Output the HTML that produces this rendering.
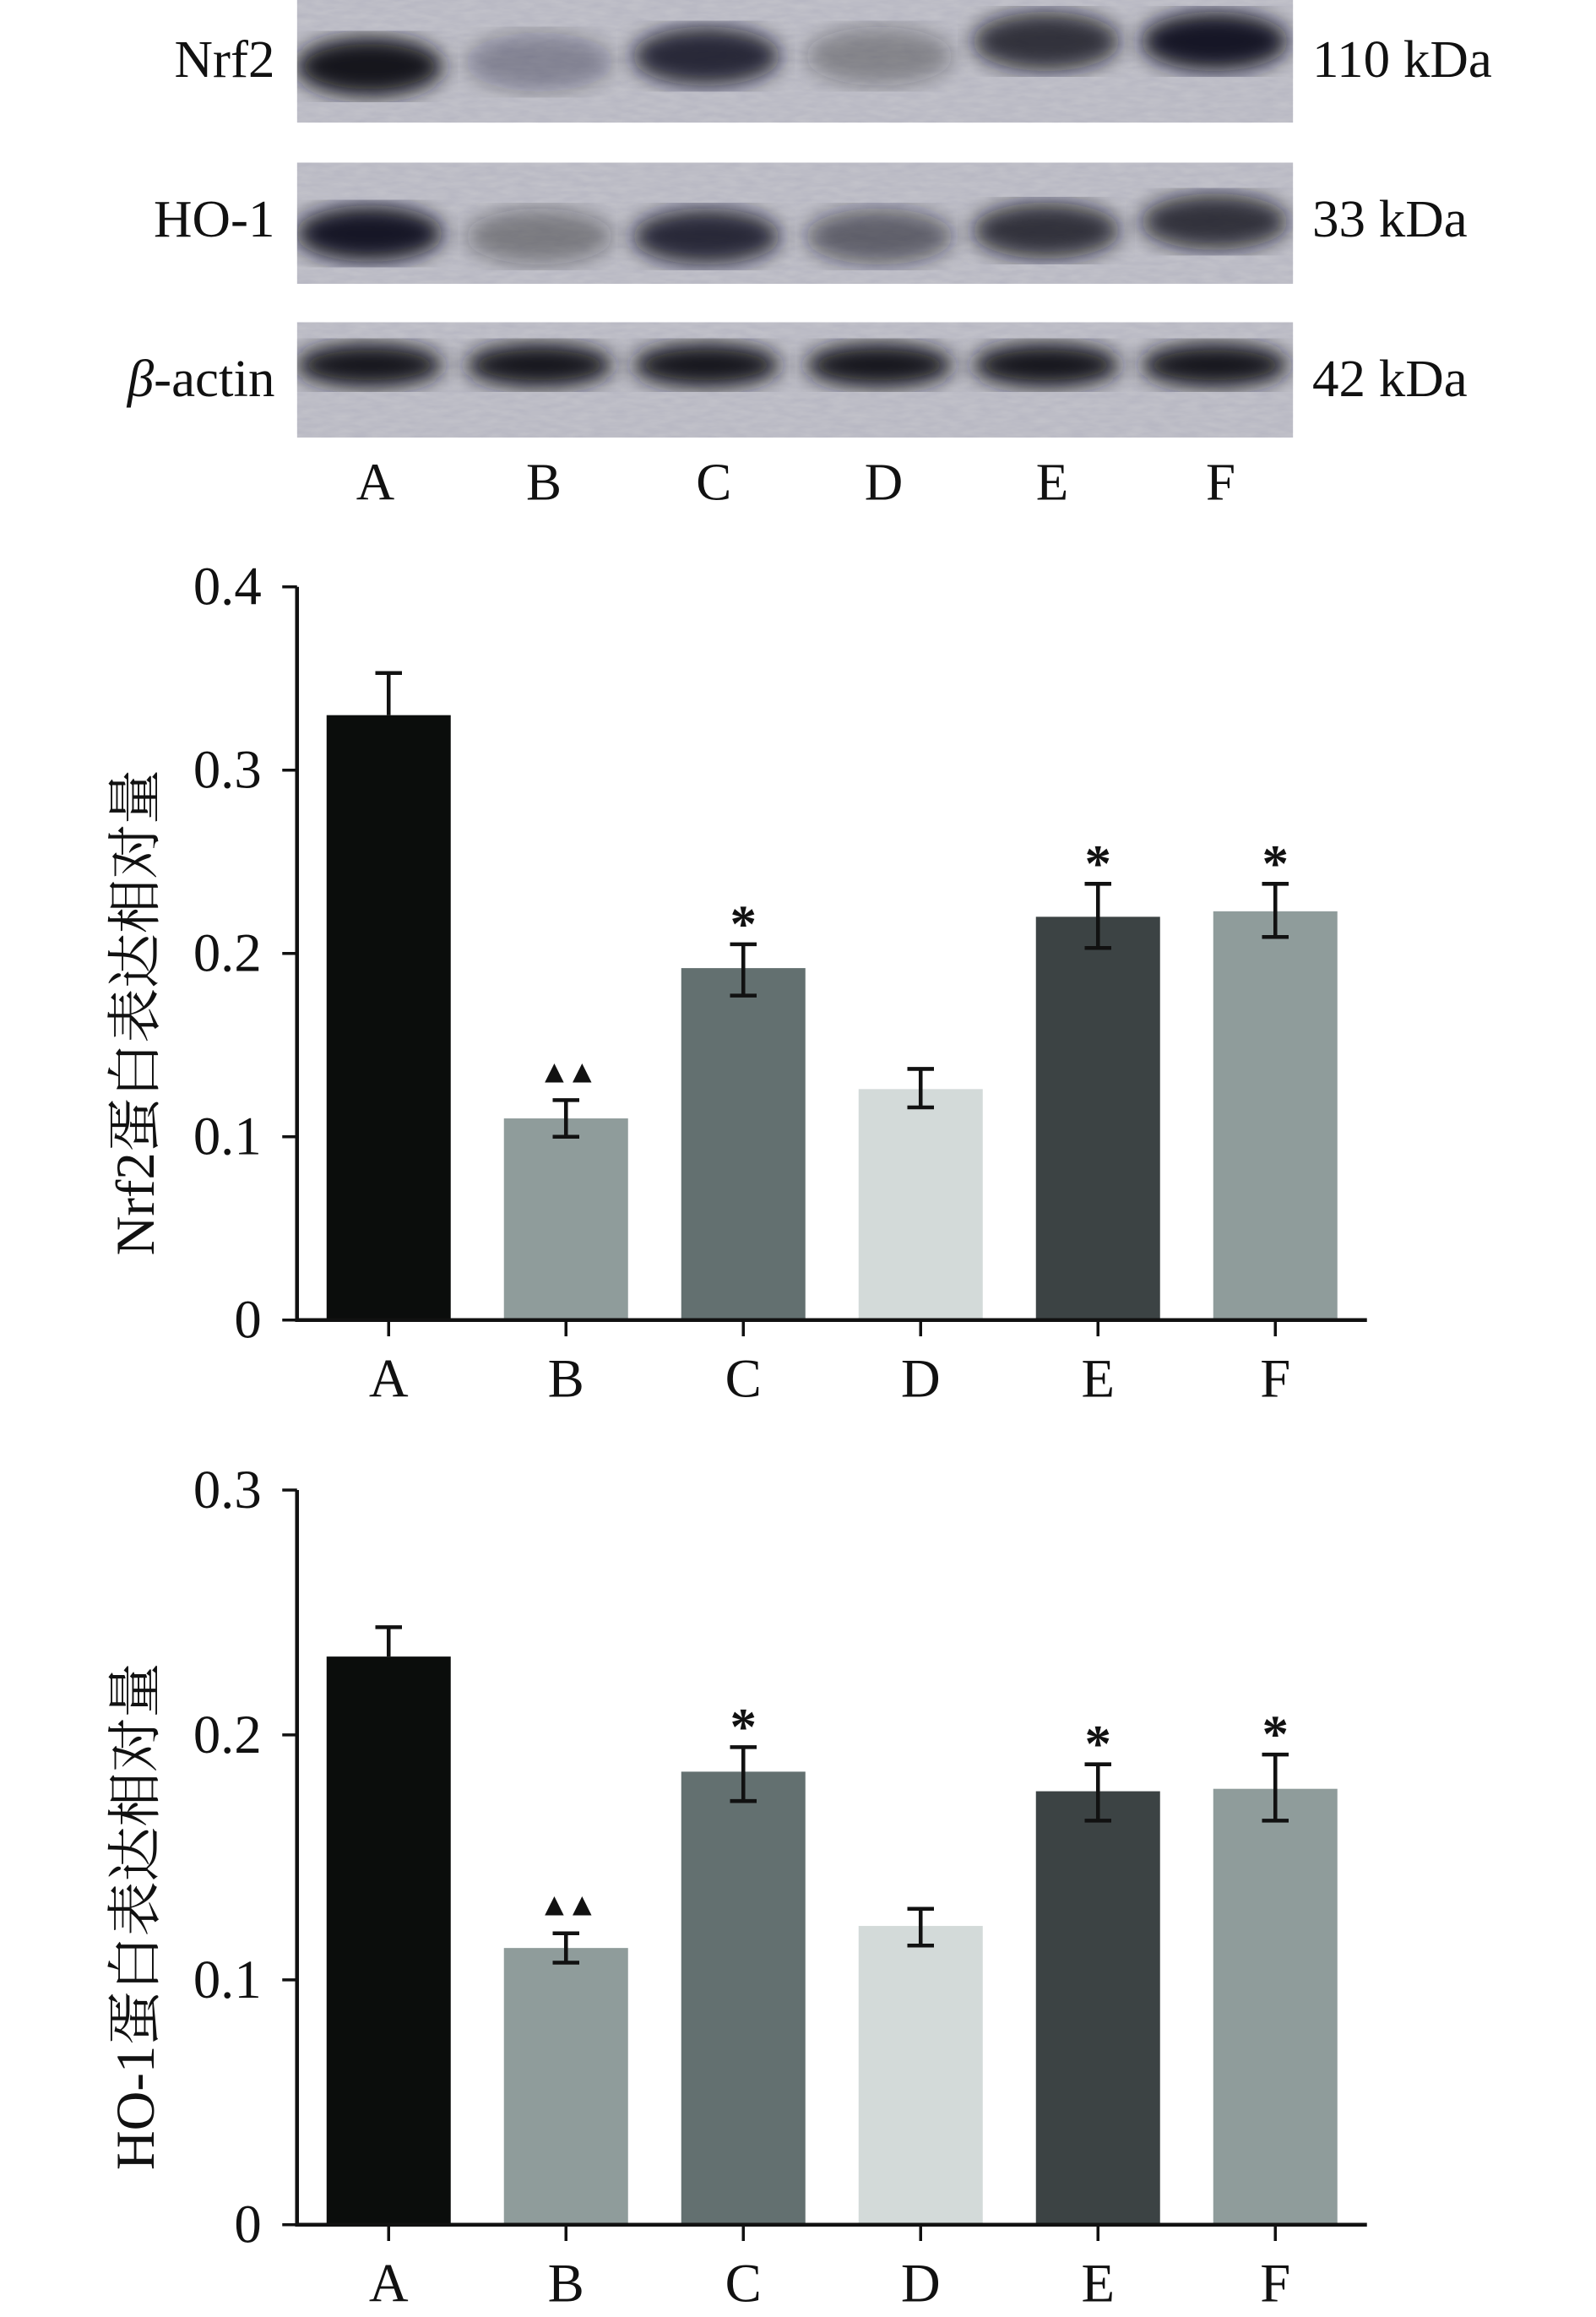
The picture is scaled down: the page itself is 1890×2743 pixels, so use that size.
<!DOCTYPE html>
<html><head><meta charset="utf-8"><style>
html,body{margin:0;padding:0;background:#fff}
svg{display:block}
text{font-family:"Liberation Serif","Noto Serif CJK SC",serif;fill:#111}
</style></head><body>
<svg id="fig" width="1890" height="2743" viewBox="0 0 1080 1567.43" xmlns="http://www.w3.org/2000/svg">
<defs>
<filter id="blur6"><feGaussianBlur stdDeviation="7"/></filter>
<filter id="noise"><feTurbulence type="fractalNoise" baseFrequency="0.08 0.3" numOctaves="2" seed="3"/><feColorMatrix values="0 0 0 0 0.35  0 0 0 0 0.35  0 0 0 0 0.45  0 0 0 0.4 0"/></filter>
<clipPath id="c1"><rect x="201" y="0" width="674" height="83"/></clipPath>
<clipPath id="c2"><rect x="201" y="110" width="674" height="82"/></clipPath>
<clipPath id="c3"><rect x="201" y="218" width="674" height="78"/></clipPath>
</defs>
<g id="blot"></g>
<g id="chart1"></g>
<g id="chart2"></g>
</svg>
<script>
const NS="http://www.w3.org/2000/svg";
const categories=["A","B","C","D","E","F"];
const nrf2Values=[0.330,0.110,0.192,0.126,0.220,0.223];
const nrf2ErrHi=[0.353,0.120,0.205,0.137,0.238,0.238];
const nrf2ErrLo=[0.330,0.100,0.177,0.116,0.203,0.209];
const nrf2Marks=["","▲▲","*","","*","*"];
const nrf2Ticks=[0,0.1,0.2,0.3,0.4];
const nrf2TickLabels=["0","0.1","0.2","0.3","0.4"];
const ho1Values=[0.232,0.113,0.185,0.122,0.177,0.178];
const ho1ErrHi=[0.244,0.119,0.195,0.129,0.188,0.192];
const ho1ErrLo=[0.232,0.107,0.173,0.114,0.165,0.165];
const ho1Marks=["","▲▲","*","","*","*"];
const ho1Ticks=[0,0.1,0.2,0.3];
const ho1TickLabels=["0","0.1","0.2","0.3"];
const barColors=["#0b0d0c","#8f9c9b","#637070","#d3dad9","#3c4344","#8f9c9b"];
const nrf2Band=[1.0,0.3,0.85,0.35,0.8,0.95];
const ho1Band=[0.95,0.4,0.85,0.55,0.8,0.8];
const actinBand=[1,1,1,1,1,1];

function el(tag,attrs,parent){const e=document.createElementNS(NS,tag);for(const k in attrs)e.setAttribute(k,attrs[k]);if(parent)parent.appendChild(e);return e;}

const blot=document.getElementById('blot');
const laneX=[250,365,478,595,708,822];
function panel(y,h,clip,bands,bandY,bh,label,kda,nameKey,ly){
  const g=el('g',{'clip-path':'url(#'+clip+')'},blot);
  
  
  el('rect',{x:201,y:y,width:674,height:h,fill:'#c4c4cb'},g);
  el('rect',{x:201,y:y,width:674,height:h,filter:'url(#noise)'},g);
  bands.forEach((v,i)=>{
    const b=el('ellipse',{cx:laneX[i],cy:bandY[i],rx:50,ry:bh,fill:'#12121c','fill-opacity':v,filter:'url(#blur6)'},g);
    
    
  });
  const t=el('text',{x:186,y:ly,'font-size':36,'text-anchor':'end'},blot);
  
  
  if(label==='β-actin'){const ts=el('tspan',{'font-style':'italic'},t);ts.textContent='β';const t2=el('tspan',{},t);t2.textContent='-actin';}
  else t.textContent=label;
  const k=el('text',{x:888,y:ly,'font-size':36},blot);
  
  
  k.textContent=kda;
}
panel(0,83,'c1',nrf2Band,[45,42,38,38,28,28],20,'Nrf2','110 kDa','nrf2',52);
panel(110,82,'c2',ho1Band,[158,160,160,160,156,150],19,'HO-1','33 kDa','ho1',160);
panel(218,78,'c3',actinBand,[247,247,247,247,247,247],15,'β-actin','42 kDa','actin',268);
laneX.forEach((x,i)=>{
  const t=el('text',{x:[254,368,483,598,712,826][i],y:338,'font-size':36,'text-anchor':'middle'},blot);
  
  
  t.textContent=categories[i];
});

function chart(gid,y0,yTop,vmax,values,hi,lo,marks,ticks,tickLabels,title,prefix){
  const g=document.getElementById(gid);
  const xAxis=201, xEnd=925;
  const yScale=v=>y0-(v/vmax)*(y0-yTop);
  const xCenter=i=>263+i*120;
  const bw=84;
  values.forEach((v,i)=>{
    const r=el('rect',{x:xCenter(i)-bw/2,y:yScale(v),width:bw,height:y0-yScale(v),fill:barColors[i]},g);
    
    
    const e=el('path',{d:`M${xCenter(i)} ${yScale(lo[i])}V${yScale(hi[i])}M${xCenter(i)-9} ${yScale(hi[i])}H${xCenter(i)+9}`+(lo[i]<v?`M${xCenter(i)-9} ${yScale(lo[i])}H${xCenter(i)+9}`:''),stroke:'#111','stroke-width':2.6,fill:'none'},g);
    
    
    if(marks[i]){
      const star=marks[i]==='*';
      const m=el('text',{x:xCenter(i),y:yScale(hi[i])-(star?2:12),'font-size':star?36:22,'text-anchor':'middle','font-family':'DejaVu Sans','font-weight':'bold'},g);
      
      
      m.textContent=star?'*':'▲▲';
      if(!star) m.setAttribute('letter-spacing','-3');
    }
    const tk=el('line',{x1:xCenter(i),x2:xCenter(i),y1:y0,y2:y0+11,stroke:'#111','stroke-width':2},g);
    
    
    const lb=el('text',{x:xCenter(i),y:y0+52,'font-size':37,'text-anchor':'middle'},g);
    
    
    lb.textContent=categories[i];
  });
  const ax=el('path',{d:`M${xAxis} ${yTop}V${y0}H${xEnd}`,stroke:'#111','stroke-width':2.6,fill:'none'},g);
  
  
  ticks.forEach((t,i)=>{
    const l=el('line',{x1:xAxis-10,x2:xAxis,y1:yScale(t),y2:yScale(t),stroke:'#111','stroke-width':2},g);
    
    
    const tx=el('text',{x:xAxis-24,y:yScale(t)+12,'font-size':37,'text-anchor':'end'},g);
    
    
    tx.textContent=tickLabels[i];
  });
  const cy=(y0+yTop)/2+40;
  const tt=el('text',{x:0,y:0,'font-size':37,'text-anchor':'middle',transform:`translate(104 ${cy}) rotate(-90)`},g);
  
  
  tt.textContent=title;
}
chart('chart1',893,397,0.4,nrf2Values,nrf2ErrHi,nrf2ErrLo,nrf2Marks,nrf2Ticks,nrf2TickLabels,'Nrf2蛋白表达相对量','nrf2');
chart('chart2',1505,1008,0.3,ho1Values,ho1ErrHi,ho1ErrLo,ho1Marks,ho1Ticks,ho1TickLabels,'HO-1蛋白表达相对量','ho1');
</script>
</body></html>
